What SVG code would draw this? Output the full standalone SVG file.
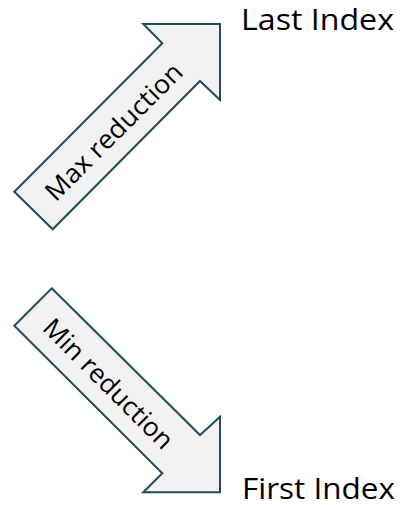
<svg xmlns="http://www.w3.org/2000/svg" width="400" height="505" viewBox="0 0 400 505">
<style>
.arrow{fill:#f2f2f2;stroke:#1f4e5a;stroke-width:2;stroke-linejoin:miter}
.lbl{font-family:"Open Sans","Liberation Sans",sans-serif;font-size:29px;fill:#000}
.atxt{font-family:"Open Sans","Liberation Sans",sans-serif;font-size:26px;fill:#000}
</style>
<rect width="400" height="505" fill="#fff"/>
<g id="max-arrow">
<polygon class="arrow" points="14.3,191.7 162.3,43.3 143.3,24 220,24 220,100 200,81 52.7,229.3"/>
<text class="atxt" transform="translate(113,131) rotate(-45)" text-anchor="middle" dominant-baseline="central" textLength="182" lengthAdjust="spacingAndGlyphs">Max reduction</text>
</g>
<g id="min-arrow">
<polygon class="arrow" points="51.7,288.3 200,435 220,416.7 220,492.3 143.3,492.3 162.3,473.3 14.3,325.7"/>
<text class="atxt" transform="translate(109,383) rotate(45)" text-anchor="middle" dominant-baseline="central" textLength="172" lengthAdjust="spacingAndGlyphs">Min reduction</text>
</g>
<g id="last-index">
<text class="lbl" x="241" y="29.5" textLength="153" lengthAdjust="spacingAndGlyphs">Last Index</text>
</g>
<g id="first-index">
<text class="lbl" x="242" y="499" textLength="153" lengthAdjust="spacingAndGlyphs">First Index</text>
</g>
<g id="connectors"></g>
</svg>
